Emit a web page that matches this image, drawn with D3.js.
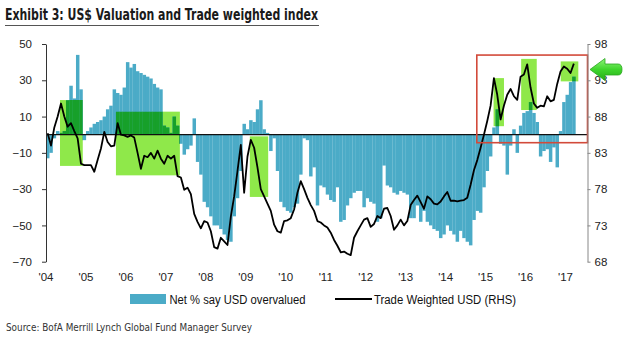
<!DOCTYPE html>
<html>
<head>
<meta charset="utf-8">
<script src="https://cdn.jsdelivr.net/npm/d3@7"></script>
<style>
  html, body { margin: 0; padding: 0; background: #fff; }
  svg { display: block; }
</style>
</head>
<body>
<svg id="chart" width="624" height="356"></svg>
<script>
// ---------------- data ----------------
const startYear = 2004;            // first month = Jan 2004 (monthly data)
const yearLabels = ["'04","'05","'06","'07","'08","'09","'10","'11","'12","'13","'14","'15","'16","'17"];
const leftTicks = [-70, -50, -30, -10, 10, 30, 50];
const rightTicks = [68, 73, 78, 83, 88, 93, 98];

// Net % say USD overvalued (LHS), monthly Jan 2004 - Mar 2017
const netOvervalued = [
  -13,-10,-2,2,1,2,19,27,20,44,25,-3,          // 2004
  2,4,6,7,8,10,14,16,25,23,22,26,             // 2005
  40,37,39,35,34,33,32,31,28,26,25,5,         // 2006
  4,1,10,5,-5,-11,-8,-6,9,-15,-22,-37,        // 2007
  -40,-45,-50,-50,-52,-55,-58,-59,-45,-35,-20,6, // 2008
  3,8,7,14,19,3,1,-9,-2,-20,-37,-40,          // 2009
  -42,-43,-40,-38,-22,-2,-3,-23,-18,-39,-28,-29, // 2010
  -33,-36,-37,-29,-48,-47,-39,-35,-32,-31,-31,-40, // 2011
  -35,-37,-38,-48,-46,-17,-28,-29,-32,-33,-31,-32, // 2012
  -33,-46,-46,-39,-48,-42,-48,-50,-52,-53,-57,-55, // 2013
  -50,-53,-55,-59,-53,-57,-59,-61,-47,-42,-43,-29, // 2014
  -20,-12,4,14,-5,-6,-22,-6,3,-10,5,12,       // 2015
  13,18,12,7,-12,-9,-8,-15,-7,-18,2,18,       // 2016
  22,29,32                                    // 2017
];

// Trade Weighted USD (RHS), monthly Jan 2004 - Mar 2017
const tradeWeighted = [
  85.7,84.0,86.5,88.0,89.8,88.0,86.6,87.1,86.0,85.0,81.5,81.3, // 2004
  81.3,81.3,80.4,82.0,83.6,85.9,84.5,83.9,84.0,87.1,85.5,85.4, // 2005
  85.2,85.4,85.1,83.0,80.8,82.6,82.4,83.0,82.2,83.3,82.2,81.5, // 2006
  82.6,82.2,82.6,79.8,79.6,77.9,78.2,77.3,74.6,73.5,72.6,73.6, // 2007
  73.4,72.2,70.0,69.8,71.3,70.8,70.3,74.2,77.0,80.5,84.1,77.5, // 2008
  82.5,84.8,83.7,81.0,78.0,77.0,76.0,75.0,73.1,72.2,72.0,73.6, // 2009
  73.7,74.0,75.2,77.5,79.1,78.0,76.8,75.8,75.0,73.6,73.4,73.0, // 2010
  72.7,72.0,71.0,70.2,69.3,69.4,69.1,68.9,71.3,72.2,73.0,73.8, // 2011
  74.0,72.8,73.2,74.3,74.0,75.3,75.4,74.3,72.4,73.0,73.8,73.0, // 2012
  73.6,75.8,76.5,77.1,76.2,75.3,77.0,76.6,76.0,75.9,76.3,77.0, // 2013
  77.6,76.4,76.4,76.3,76.4,76.5,76.8,78.6,80.6,82.0,83.7,85.5, // 2014
  87.4,89.5,93.3,91.0,87.6,89.5,91.0,91.8,90.8,90.3,93.5,93.8, // 2015
  95.2,92.0,89.8,89.2,89.5,89.4,90.8,90.1,90.3,92.5,94.2,94.9, // 2016
  94.6,94.0,95.3                                               // 2017
];

// green highlight boxes: [startYear, endYear, topValue(LHS), bottomValue(LHS)]
const highlightBoxes = [
  [2004.35, 2004.92, 19.1, -17.2],
  [2005.75, 2007.35, 12.7, -22.4],
  [2009.10, 2009.56, -0.9, -34.3],
  [2015.20, 2015.46, 31.2, 4.7],
  [2015.89, 2016.28, 41.8, 13.6],
  [2016.88, 2017.32, 40.4, 29.4]
];
// red focus box: [startYear, endYear, topValue(LHS), bottomValue(LHS)]
const focusBox = [2014.78, 2017.55, 43.9, -4.4];

const titleText = "Exhibit 3: US$ Valuation and Trade weighted index";
const sourceText = "Source: BofA Merrill Lynch Global Fund Manager Survey";
const legendLabels = ["Net % say USD overvalued", "Trade Weighted USD (RHS)"];

// ---------------- drawing ----------------
const svg = d3.select("#chart");
const TEAL = "#4babc7", LIGHTG = "#8fe84a", DARKG = "#17a02a";
const tickFont = "Liberation Sans, Arial, sans-serif";

const x = d3.scaleLinear().domain([2004, 2017.55]).range([46, 587.5]);
const yL = d3.scaleLinear().domain([-70, 50]).range([261.7, 44]);
const yR = d3.scaleLinear().domain([68, 98]).range([261.7, 44]);
const mStart = i => startYear + i / 12;

// title
svg.append("text").attr("x", 5).attr("y", 19.5)
  .attr("font-family", "'Liberation Sans Narrow', 'DejaVu Sans Condensed', Arial, sans-serif")
  .attr("font-weight", "bold").attr("font-size", 16).attr("fill", "#1a1a1a")
  .attr("textLength", 313).attr("lengthAdjust", "spacingAndGlyphs")
  .text(titleText);
svg.append("line").attr("x1", 5).attr("x2", 319).attr("y1", 25.5).attr("y2", 25.5)
  .attr("stroke", "#555").attr("stroke-width", 1);

// highlight boxes (light)
const hb = svg.append("g");
hb.selectAll("rect").data(highlightBoxes).join("rect")
  .attr("x", d => x(d[0])).attr("width", d => x(d[1]) - x(d[0]))
  .attr("y", d => yL(d[2])).attr("height", d => yL(d[3]) - yL(d[2]))
  .attr("fill", LIGHTG);

// clip for dark overlay
const clip = svg.append("defs").append("clipPath").attr("id", "hlclip");
clip.selectAll("rect").data(highlightBoxes).join("rect")
  .attr("x", d => x(d[0])).attr("width", d => x(d[1]) - x(d[0]))
  .attr("y", d => yL(d[2])).attr("height", d => yL(d[3]) - yL(d[2]));

// bars
function drawBars(g, fill) {
  g.selectAll("rect").data(netOvervalued).join("rect")
    .attr("x", (d, i) => x(mStart(i)))
    .attr("width", (d, i) => x(mStart(i + 1)) - x(mStart(i)) + 0.15)
    .attr("y", d => yL(Math.max(0, d)))
    .attr("height", d => Math.abs(yL(d) - yL(0)))
    .attr("fill", fill);
}
drawBars(svg.append("g"), TEAL);
drawBars(svg.append("g").attr("clip-path", "url(#hlclip)"), DARKG);

// zero line
svg.append("line").attr("x1", x(2004)).attr("x2", x(2017.55))
  .attr("y1", yL(0)).attr("y2", yL(0)).attr("stroke", "#111").attr("stroke-width", 1.3);

// trade weighted line
const line = d3.line().x((d, i) => x(mStart(i + 0.5))).y(d => yR(d));
svg.append("path").datum(tradeWeighted).attr("d", line)
  .attr("fill", "none").attr("stroke", "#000").attr("stroke-width", 1.8)
  .attr("stroke-linejoin", "round");

// red focus box
svg.append("rect")
  .attr("x", x(focusBox[0])).attr("width", x(focusBox[1]) - x(focusBox[0]))
  .attr("y", yL(focusBox[2])).attr("height", yL(focusBox[3]) - yL(focusBox[2]))
  .attr("fill", "none").attr("stroke", "#d24a3a").attr("stroke-width", 1.6);

// axes
const axL = svg.append("g").attr("transform", "translate(46,0)")
  .call(d3.axisLeft(yL).tickValues(leftTicks).tickSize(4).tickSizeOuter(0).tickPadding(10));
axL.select(".domain").attr("stroke", "#333");
axL.selectAll(".tick line").attr("stroke", "#333");
axL.selectAll("text").attr("font-family", tickFont).attr("font-size", 11.5).attr("fill", "#222");

const axR = svg.append("g").attr("transform", "translate(587.5,0)")
  .call(d3.axisRight(yR).tickValues(rightTicks).tickSize(3).tickSizeOuter(0).tickPadding(4));
axR.select(".domain").attr("stroke", "#888");
axR.selectAll(".tick line").attr("stroke", "#888");
axR.selectAll("text").attr("font-family", tickFont).attr("font-size", 11.5).attr("fill", "#222");

// x labels
svg.append("g").selectAll("text").data(yearLabels).join("text")
  .attr("x", (d, i) => x(startYear + i)).attr("y", 281)
  .attr("text-anchor", "middle").attr("font-family", tickFont)
  .attr("font-size", 11.5).attr("fill", "#222").text(d => d);

// green arrow
const grad = svg.select("defs").append("linearGradient").attr("id", "arrowGrad")
  .attr("x1", 0).attr("x2", 0).attr("y1", 0).attr("y2", 1);
grad.append("stop").attr("offset", "0%").attr("stop-color", "#8ff57a");
grad.append("stop").attr("offset", "50%").attr("stop-color", "#3fd52c");
grad.append("stop").attr("offset", "100%").attr("stop-color", "#25ad1a");
svg.append("path")
  .attr("d", "M590,69.5 L605,58.5 L605,64 L618,64 Q622,64 622,69.5 Q622,75 618,75 L605,75 L605,80.5 Z")
  .attr("fill", "url(#arrowGrad)").attr("stroke", "#2aa61e").attr("stroke-width", 0.8);

// legend
const lg = svg.append("g").attr("font-family", tickFont).attr("font-size", 12).attr("fill", "#111");
lg.append("rect").attr("x", 130).attr("y", 294).attr("width", 36).attr("height", 10).attr("fill", TEAL);
lg.append("text").attr("x", 169.5).attr("y", 303.5).attr("textLength", 136).attr("lengthAdjust", "spacingAndGlyphs").text(legendLabels[0]);
lg.append("line").attr("x1", 335).attr("x2", 372).attr("y1", 299).attr("y2", 299)
  .attr("stroke", "#000").attr("stroke-width", 1.8);
lg.append("text").attr("x", 374).attr("y", 303.5).attr("textLength", 142).attr("lengthAdjust", "spacingAndGlyphs").text(legendLabels[1]);

// source
svg.append("text").attr("x", 6).attr("y", 331)
  .attr("font-family", "'Liberation Sans Narrow', 'DejaVu Sans Condensed', Arial, sans-serif")
  .attr("font-size", 11).attr("fill", "#333")
  .attr("textLength", 246).attr("lengthAdjust", "spacingAndGlyphs")
  .text(sourceText);
</script>
</body>
</html>
